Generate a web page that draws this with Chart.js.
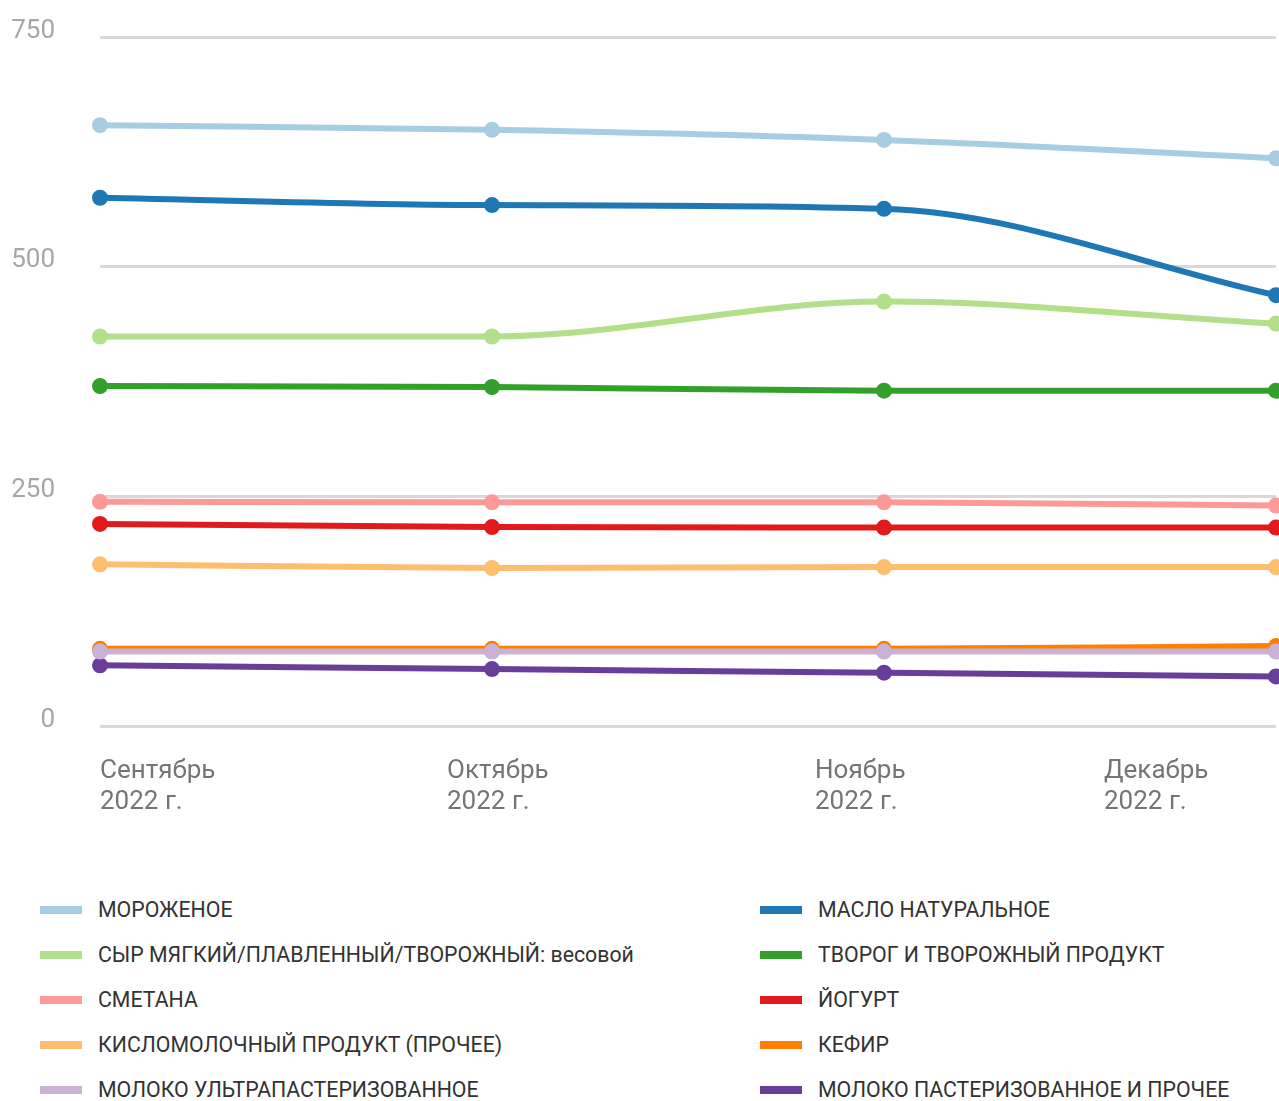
<!DOCTYPE html>
<html lang="ru">
<head>
<meta charset="utf-8">
<script src="https://cdn.jsdelivr.net/npm/chart.js@4"></script>
<style>
    body { margin: 0; background: #fff; font-family: Roboto, sans-serif; overflow: hidden; }
    #wrap { width: 1279px; height: 840px; }
    #legend { display: grid; grid-template-columns: 720px 519px; margin: 47px 0 0 40px; }
    .item { display: flex; align-items: center; height: 45px; font-size: 21.3px; color: #333; white-space: nowrap; }
    .sw { width: 42px; height: 8px; margin-right: 16px; flex: none; }
</style>
</head>
<body>
<div id="wrap"><canvas id="chart" width="1279" height="840"></canvas></div>
<div id="legend"></div>
<script>
const months = ["Сентябрь", "Октябрь", "Ноябрь", "Декабрь"]
const years = ["2022 г.", "2022 г.", "2022 г.", "2022 г."]
const yTicks = [0, 250, 500, 750]

const names = [
    "МОРОЖЕНОЕ",
    "МАСЛО НАТУРАЛЬНОЕ",
    "СЫР МЯГКИЙ/ПЛАВЛЕННЫЙ/ТВОРОЖНЫЙ: весовой",
    "ТВОРОГ И ТВОРОЖНЫЙ ПРОДУКТ",
    "СМЕТАНА",
    "ЙОГУРТ",
    "КИСЛОМОЛОЧНЫЙ ПРОДУКТ (ПРОЧЕЕ)",
    "КЕФИР",
    "МОЛОКО УЛЬТРАПАСТЕРИЗОВАННОЕ",
    "МОЛОКО ПАСТЕРИЗОВАННОЕ И ПРОЧЕЕ",
]

const morozhenoe = [654, 649, 638, 618]
const maslo = [575, 567, 563, 469]
const syr = [424, 424, 462, 438]
const tvorog = [370, 369, 365, 365]
const smetana = [244, 243.5, 243.5, 240]
const yogurt = [220, 216.5, 216, 216]
const kislomol = [176, 172, 173, 173]
const kefir = [84, 84, 84, 87]
const molokoUltra = [81, 81, 81, 81]
const molokoPast = [66, 62, 58, 54]

const series = [morozhenoe, maslo, syr, tvorog, smetana, yogurt, kislomol, kefir, molokoUltra, molokoPast]
const colors = ["#a6cee3", "#1f78b4", "#b2df8a", "#33a02c", "#fb9a99", "#e31a1c", "#fdbf6f", "#ff7f00", "#cab2d6", "#6a3d9a"]

// x labels are drawn left-aligned, shifted left of their points like in the source
const labelShift = [0, -45, -69, -172]

const xLabels = {
    id: "xLabels",
    afterDraw(chart) {
        const ctx = chart.ctx
        const xs = chart.scales.x
        const bottom = chart.chartArea.bottom
        ctx.save()
        ctx.font = "26px Roboto"
        ctx.fillStyle = "#757575"
        ctx.textAlign = "left"
        ctx.textBaseline = "middle"
        months.forEach((m, i) => {
            const x = xs.getPixelForValue(i) + labelShift[i]
            ctx.fillText(m, x, bottom + 45)
            ctx.fillText(years[i], x, bottom + 76)
        })
        ctx.restore()
    },
}

const noPad = s => {
    s.paddingTop = 0
    s.paddingBottom = 0
    s.paddingLeft = 0
    s.paddingRight = 0
}

new Chart(document.getElementById("chart"), {
    type: "line",
    data: {
        labels: months,
        datasets: series.map((d, i) => ({
            label: names[i],
            data: d,
            borderColor: colors[i],
            backgroundColor: colors[i],
            pointBackgroundColor: colors[i],
            borderWidth: 6,
            pointRadius: 8,
            pointBorderWidth: 0,
            cubicInterpolationMode: "monotone",
            clip: false,
            order: names[i] === "КЕФИР" ? 1 : 0,
        })),
    },
    options: {
        responsive: false,
        animation: false,
        layout: { autoPadding: false, padding: { left: 0, top: 37, right: 3, bottom: 114 } },
        plugins: {
            legend: { display: false },
            tooltip: { enabled: false },
        },
        scales: {
            x: { display: false, offset: false, ticks: { display: false }, afterFit: noPad },
            y: {
                min: yTicks[0],
                max: yTicks[yTicks.length - 1],
                afterBuildTicks: s => { s.ticks = yTicks.map(v => ({ value: v })) },
                afterFit: s => { s.width = 100; noPad(s) },
                ticks: {
                    color: "#a6a6a6",
                    font: { family: "Roboto", size: 26 },
                    labelOffset: -6,
                    padding: 45,
                },
                grid: { color: "#d9d9d9", lineWidth: 3, drawTicks: false },
                border: { display: false },
            },
        },
    },
    plugins: [xLabels],
})

const legend = document.getElementById("legend")
names.forEach((n, i) => {
    const item = document.createElement("div")
    item.className = "item"
    item.innerHTML = `<span class="sw" style="background:${colors[i]}"></span><span></span>`
    item.lastChild.textContent = n
    legend.appendChild(item)
})
</script>
</body>
</html>
